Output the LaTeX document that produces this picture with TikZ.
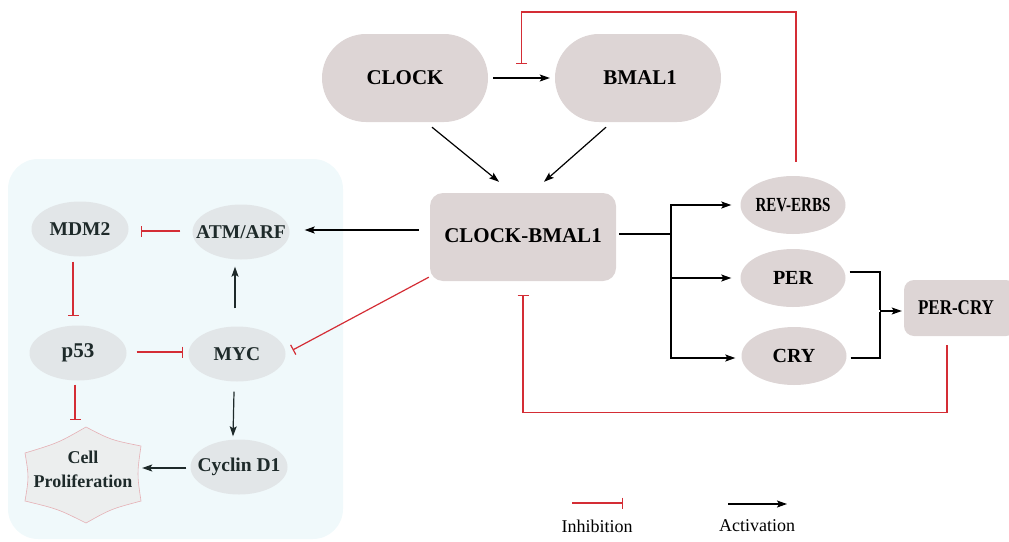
\documentclass[tikz,border=0pt]{standalone}
\usepackage{fontspec}
\setmainfont{Liberation Serif}
\usetikzlibrary{arrows.meta,calc,shapes.geometric}
\definecolor{inhred}{HTML}{D42D35}
\definecolor{nodepink}{HTML}{DDD5D5}
\definecolor{nodegray}{HTML}{E2E6E8}
\definecolor{panelblue}{HTML}{F0F9FB}
\definecolor{darkslate}{HTML}{1E2A2A}
\definecolor{starfill}{HTML}{ECEEEE}
\definecolor{starline}{HTML}{E6B0B5}
\tikzset{
  bigfont/.style={font=\bfseries\fontsize{21}{24}\selectfont},
  midfont/.style={font=\bfseries\fontsize{19.5}{23}\selectfont, text=darkslate},
  pill/.style={rectangle, fill=nodepink, minimum width=166pt, minimum height=88pt, rounded corners=44pt, inner sep=0pt},
  rbox/.style={rectangle, fill=nodepink, rounded corners=#1, inner sep=0pt},
  blobR/.style={ellipse, fill=nodepink, minimum width=105pt, minimum height=58pt, inner sep=0pt},
  blobL/.style={ellipse, fill=nodegray, minimum width=97pt, minimum height=55pt, inner sep=0pt},
  act/.style={line width=1.2pt, color=black, -{Stealth[length=10pt,width=7pt,inset=2pt]}},
  actL/.style={act, color=darkslate},
  plain/.style={line width=1.2pt, draw=black},
  inh/.style={line width=1.2pt, color=inhred, -{Bar[width=11pt,line width=1.2pt]}},
}
\begin{document}
\begin{tikzpicture}[x=1pt,y=-1pt]
\useasboundingbox (0,0) rectangle (1009,541);

% left panel background
\fill[panelblue, rounded corners=30pt] (8,159) rectangle (343,539);

% core clock nodes
\node[pill, bigfont] (clock) at (405,78) {CLOCK};
\node[pill, bigfont] (bmal) at (638,78) {\hspace*{4pt}BMAL1};
\node[rbox=13pt, minimum width=186pt, minimum height=88pt, bigfont] (cb) at (523,237) {\raisebox{3pt}{CLOCK-BMAL1}};

% targets
\node[blobR, label={[font=\bfseries\fontsize{20}{24}\selectfont]center:\scalebox{0.75}[1]{REV-ERBS}}] (rev) at (793,205) {};
\node[blobR, label={[font=\bfseries\fontsize{20}{24}\selectfont]center:PER}] (per) at (793,278) {};
\node[blobR, label={[font=\bfseries\fontsize{20}{24}\selectfont]center:CRY}] (cry) at (794,356) {};
\node[rbox=10pt, minimum width=112pt, minimum height=56pt, font=\bfseries\fontsize{21}{24}\selectfont] (percry) at (960,308) {\hspace*{-8pt}\scalebox{0.81}[1]{PER-CRY}};

% left panel nodes
\node[blobL, label={[midfont]center:MDM2}] (mdm2) at (80,229) {};
\node[blobL, label={[midfont]center:ATM/ARF}] (atm) at (241,232) {};
\node[blobL, label={[midfont, font=\bfseries\fontsize{21}{24}\selectfont]center:p53}] (p53) at (78,353) {};
\node[blobL, label={[midfont]center:MYC}] (myc) at (237,354) {};
\node[blobL, label={[midfont]center:Cyclin D1}] (cyc) at (239,467) {};

% cell proliferation star
\filldraw[fill=starfill, draw=starline, line width=0.6pt]
  (86,427) .. controls (111,440) .. (141,446)
  .. controls (137,474) .. (141,501)
  .. controls (111,509) .. (86,523)
  .. controls (58,509) .. (25,501)
  .. controls (29,477) .. (25,453)
  .. controls (58,443) .. cycle;
\node[minimum width=118pt, minimum height=90pt, inner sep=0pt, align=center,
      font=\bfseries\fontsize{18}{24}\selectfont, text=darkslate] (cellp) at (83,469)
      {Cell\\Proliferation};

% clock activations
\draw[act] ([xshift=5pt]clock.east) -- ([xshift=-5pt]bmal.west);
\draw[act] ($(clock.south)+(27,5)$) -- ($(cb.north)+(-24,-11)$);
\draw[act] ($(bmal.south)+(-32,5)$) -- ($(cb.north)+(21,-11)$);

% branch to REV-ERBS, PER, CRY
\coordinate (junc) at (671,234);
\draw[plain] ($(cb.east)+(3,-3)$) -- (junc);
\draw[act] ($(junc)+(0,0.6)$) |- ([xshift=-9pt]rev.west);
\draw[act] (junc) |- ([xshift=-9pt]per.west);
\draw[act] ($(junc)+(0,-0.6)$) |- ($(cry.west)+(-6,2)$);

% PER and CRY merge into PER-CRY
\coordinate (merge) at (880,311);
\draw[plain] ($(per.east)+(4,-6)$) -| ($(merge)+(0,-0.6)$);
\draw[plain] ($(cry.east)+(4,2)$) -| ($(merge)+(0,0.6)$);
\draw[act] (merge) -- ($(percry.west)+(-2,3)$);

% feedback inhibitions
\draw[inh] ($(rev.north)+(3,-14)$) |- ($(clock.east)!0.5!(bmal.west)+(0,-66)$) -- ($(clock.east)!0.5!(bmal.west)+(0,-14)$);
\draw[inh] ($(percry.south)+(-13,9)$) |- ($(cb.south)+(0,131)$) -- ($(cb.south)+(0,14)$);

% CLOCK-BMAL1 to the left panel
\draw[act] ($(cb.west)+(-11,-7)$) -- ($(atm.east)+(15,-2)$);
\draw[inh] ($(cb.south west)+(-1,-4)$) -- ($(myc.east)+(7,-4)$);

% left panel interactions
\draw[inh] ($(atm.west)+(-12,-1)$) -- ($(mdm2.east)+(12,2)$);
\draw[inh] ($(mdm2.south)+(-7,5)$) -- ($(p53.north)+(-5,-9)$);
\draw[inh] ($(p53.east)+(10,-1)$) -- ($(myc.west)+(-5,-2)$);
\draw[inh] ($(p53.south)+(-3,4)$) -- ($(cellp.center)+(-8,-49)$);
\draw[actL] ($(myc.north)+(-2,-18)$) -- ($(atm.south)+(-6,7)$);
\draw[actL] ($(myc.south)+(-3,10)$) -- ($(cyc.north)+(-6,-3)$);
\draw[actL] ($(cyc.west)+(-4,1)$) -- ($(cellp.east)+(0,-1)$);

% legend
\node[font=\fontsize{18}{22}\selectfont] (inhtxt) at (597,526) {Inhibition};
\node[font=\fontsize{18}{22}\selectfont] (acttxt) at (757,526) {Activation};
\draw[inh] ($(inhtxt.center)+(-25,-23)$) -- ($(inhtxt.center)+(26,-23)$);
\draw[act] ($(acttxt.center)+(-29,-22)$) -- ($(acttxt.center)+(30,-22)$);
\end{tikzpicture}
\end{document}
